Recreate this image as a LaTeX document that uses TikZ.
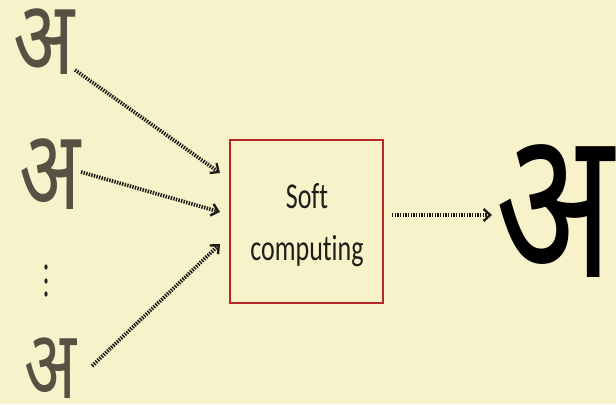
\documentclass[tikz,border=0pt]{standalone}
\usepackage{fontspec}
\setmainfont{Carlito}[Ligatures=NoCommon]
\newfontfamily\deva[Script=Devanagari]{Noto Sans}
\usetikzlibrary{arrows.meta}
\definecolor{bg}{RGB}{248,242,203}
\definecolor{boxred}{RGB}{185,40,40}
\definecolor{ink}{RGB}{30,30,25}
\definecolor{hand}{RGB}{85,82,68}
\tikzset{
  conn/.style={line width=2.8pt, dash pattern=on 1.1pt off 0.9pt, ink,
    -{Straight Barb[length=5pt,width=9pt,line width=1.8pt]}},
  handletter/.style={font=\deva\fontsize{60}{60}\selectfont, text=hand, inner sep=0pt, anchor=center},
}
\newcommand{\tallbox}[1]{\scalebox{1}[1.4]{#1}}
\begin{document}
\begin{tikzpicture}[x=0.75pt,y=-0.75pt]
\fill[bg] (0,0) rectangle (616,404);
\useasboundingbox (0,0) rectangle (616,404);
\node[handletter] (a1) at (44,42) {\scalebox{1}[1.3]{अ}};
\node[handletter] (a2) at (50,174) {\scalebox{1}[1.4]{अ}};
\node[handletter, anchor=base, text depth=0pt] (a3) at (50,398) {\scalebox{0.85}[1.2]{अ}};
\fill[ink] (46,267) ellipse [x radius=1.6, y radius=2.6];
\fill[ink] (46,281) ellipse [x radius=1.6, y radius=2.6];
\fill[ink] (46,294) ellipse [x radius=1.6, y radius=2.6];
\node[draw=boxred, line width=2.1pt, minimum width=153*0.75pt, minimum height=163*0.75pt, inner sep=0pt] (sc) at (306.5,221.5) {};
\node[align=center, font=\fontsize{19.5}{39}\selectfont, text=ink, inner sep=0pt] (sclabel) at (307,225) {\tallbox{Soft}\\\tallbox{computing}};
\node[font=\deva\fontsize{116}{116}\selectfont, text=black, inner sep=0pt] (out) at (555,211) {\scalebox{1}[1.36]{अ}};
\coordinate (t1) at (220,173);
\coordinate (t2) at (220,212);
\coordinate (t3) at (220,244);
\coordinate (s1) at (75,70);
\coordinate (s2) at (81,172);
\coordinate (s3) at (92,366);
\coordinate (o1) at (392,215);
\coordinate (o2) at (492,215);
\draw[conn] (s1) -- (t1);
\draw[conn] (s2) -- (t2);
\draw[conn] (s3) -- (t3);
\draw[conn] (o1) -- (o2);
\end{tikzpicture}
\end{document}
